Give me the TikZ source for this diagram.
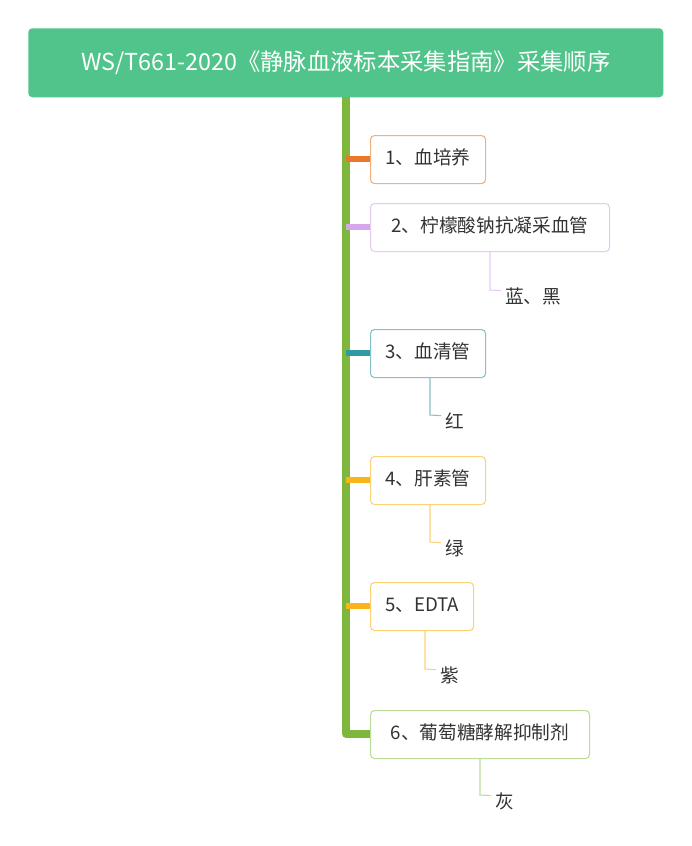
\documentclass[tikz,border=0pt]{standalone}
\usepackage{fontspec}
\setmainfont{Noto Sans CJK SC}
\definecolor{tgreen}{HTML}{50C48A}
\definecolor{trunk}{HTML}{7DB83C}
\definecolor{c1}{HTML}{E8792A}\definecolor{c2}{HTML}{D6A6EA}
\definecolor{c3}{HTML}{2E9AA3}\definecolor{c4}{HTML}{F9B41C}
\definecolor{c5}{HTML}{FAB419}\definecolor{c6}{HTML}{8CC652}
\definecolor{tx}{HTML}{333333}
\tikzset{box/.style={draw=#1!60!white,rounded corners=3pt,line width=0.8pt,fill=white,anchor=north west,text=tx,font=\fontsize{14}{16}\selectfont,inner sep=0pt,text height=11pt,text depth=3pt},
sub/.style={anchor=west,text=tx,font=\fontsize{14}{16}\selectfont,inner sep=0pt},
subl/.style={draw=#1!60!white,line width=0.8pt}}
\begin{document}
\begin{tikzpicture}[x=0.75pt,y=-0.75pt]
\useasboundingbox (0,0) rectangle (692,846);
\node[fill=tgreen,rounded corners=3pt,anchor=north west,minimum width=635*0.75pt,minimum height=69*0.75pt,text=white,font=\fontsize{17.5}{20}\selectfont,inner sep=0pt] (title) at (28,28) {WS/T661-2020《静脉血液标本采集指南》采集顺序};
\coordinate (tb) at (346,97);
\coordinate (te) at (346,734);
\draw[trunk,line width=5.5pt,line join=round] (tb) -- (te) -- (372,734);
\foreach \i/\y/\w/\c/\t in {1/135/115/c1/{1、血培养},2/203/239/c2/{2、柠檬酸钠抗凝采血管},3/329/115/c3/{3、血清管},4/456/115/c4/{4、肝素管},5/582/103/c5/{5、EDTA},6/710/219/c6/{6、葡萄糖酵解抑制剂}}{
  \ifnum\i<6 \draw[\c,line width=4pt] (346,\y+24) -- (372,\y+24);\fi
  \node[box=\c,minimum width=\w*0.75pt,minimum height=48*0.75pt] (b\i) at (370,\y) {\t};
}
\foreach \i/\x/\ty/\c/\t in {2/490/296/c2/{蓝、黑},3/430/421/c3/{红},4/430/548/c4/{绿},5/425/675/c5/{紫},6/480/801/c6/{灰}}{
  \node[sub] (s\i) at (\x+15,\ty) {\t};
  \draw[subl=\c] (b\i.south west -| \x,0) -- (\x,\ty-6) -- ([xshift=-3pt,yshift=4pt]s\i.west);
}
\end{tikzpicture}
\end{document}
